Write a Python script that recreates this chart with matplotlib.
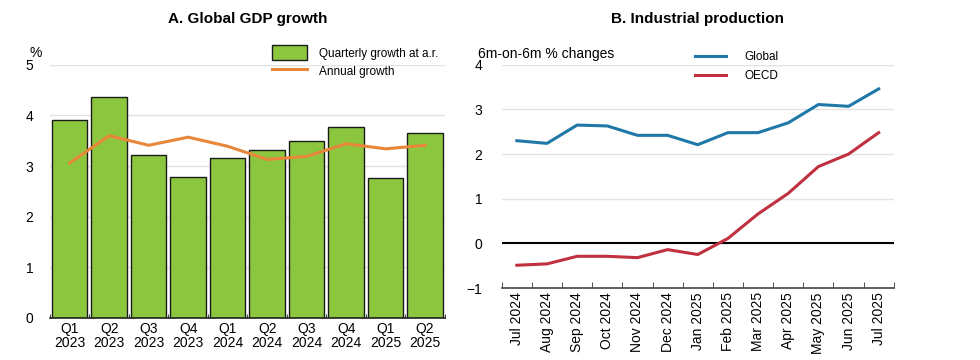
import matplotlib.pyplot as plt
import numpy as np

plt.rcParams['font.family'] = ['Liberation Sans', 'DejaVu Sans']

# Panel A data
quarters = ["Q1\n2023", "Q2\n2023", "Q3\n2023", "Q4\n2023", "Q1\n2024",
            "Q2\n2024", "Q3\n2024", "Q4\n2024", "Q1\n2025", "Q2\n2025"]
quarterly_growth = [3.91, 4.36, 3.21, 2.78, 3.16, 3.32, 3.50, 3.77, 2.77, 3.65]
annual_growth = [3.06, 3.60, 3.41, 3.57, 3.39, 3.13, 3.19, 3.44, 3.34, 3.41]

# Panel B data
months = ["Jul 2024", "Aug 2024", "Sep 2024", "Oct 2024", "Nov 2024", "Dec 2024",
          "Jan 2025", "Feb 2025", "Mar 2025", "Apr 2025", "May 2025", "Jun 2025", "Jul 2025"]
global_ip = [2.30, 2.24, 2.65, 2.63, 2.42, 2.42, 2.21, 2.48, 2.48, 2.70, 3.11, 3.07, 3.46]
oecd_ip = [-0.49, -0.46, -0.29, -0.29, -0.32, -0.14, -0.25, 0.11, 0.66, 1.12, 1.72, 2.00, 2.48]

fig = plt.figure(figsize=(9.8, 3.6), dpi=100)
ax1 = fig.add_axes([0.051, 0.117, 0.403, 0.703])
ax2 = fig.add_axes([0.512, 0.200, 0.400, 0.620])

tick_fs = 10

# ---- Panel A
x = np.arange(len(quarters))
bars = ax1.bar(x, quarterly_growth, width=0.9, color='#8cc63f', edgecolor='#1a1a1a',
               linewidth=1.0, label='Quarterly growth at a.r.', zorder=2)
line, = ax1.plot(x, annual_growth, color='#e8873a', linewidth=2.2, label='Annual growth', zorder=3)
ax1.set_xlim(-0.5, len(quarters) - 0.5)
ax1.set_ylim(0, 5)
ax1.set_yticks(range(0, 6))
ax1.set_xticks(x)
ax1.set_xticklabels(quarters, fontsize=tick_fs, linespacing=1.0)
ax1.set_xticks(np.arange(-0.5, len(quarters), 1), minor=True)
ax1.tick_params(axis='x', which='major', length=0, pad=3)
ax1.tick_params(axis='x', which='minor', length=3, direction='in', color='#222222')
ax1.tick_params(axis='y', length=0, labelsize=tick_fs, pad=12)
ax1.grid(axis='y', color='#e3e3e3', linewidth=1, zorder=0)
ax1.set_axisbelow(True)
for s in ['top', 'right', 'left']:
    ax1.spines[s].set_visible(False)
ax1.spines['bottom'].set_color('#222222')
ax1.spines['bottom'].set_linewidth(1.2)
ax1.text(-0.035, 1.03, '%', transform=ax1.transAxes, fontsize=tick_fs, ha='center')
ax1.set_title('A. Global GDP growth', fontsize=11, fontweight='bold', pad=30)
ax1.legend([bars, line], ['Quarterly growth at a.r.', 'Annual growth'],
           loc='upper right', bbox_to_anchor=(1.01, 1.12), frameon=False, fontsize=8.5,
           handlelength=3.0, handleheight=1.6, labelspacing=0.3, handletextpad=1.0)

# ---- Panel B
xm = np.arange(len(months))
ax2.plot(xm, global_ip, color='#1f78a8', linewidth=2.2, label='Global', zorder=3)
ax2.plot(xm, oecd_ip, color='#c0303f', linewidth=2.2, label='OECD', zorder=3)
ax2.axhline(0, color='black', linewidth=1.5, zorder=2)
ax2.set_xlim(-0.5, len(months) - 0.5)
ax2.set_ylim(-1, 4)
ax2.set_yticks(range(-1, 5))
ax2.set_xticks(xm)
ax2.set_xticklabels(months, rotation=90, fontsize=tick_fs)
ax2.set_xticks(np.arange(-0.5, len(months), 1), minor=True)
ax2.tick_params(axis='x', which='major', length=0, pad=3)
ax2.tick_params(axis='x', which='minor', length=4, direction='in', color='#333333')
ax2.tick_params(axis='y', length=0, labelsize=tick_fs, pad=14)
ax2.grid(axis='y', color='#e3e3e3', linewidth=1, zorder=0)
ax2.set_axisbelow(True)
for s in ['top', 'right', 'left']:
    ax2.spines[s].set_visible(False)
ax2.spines['bottom'].set_color('#444444')
ax2.spines['bottom'].set_linewidth(1.2)
ax2.text(-0.06, 1.03, '6m-on-6m % changes', transform=ax2.transAxes, fontsize=tick_fs, ha='left')
ax2.set_title('B. Industrial production', fontsize=11, fontweight='bold', pad=30)
ax2.legend(loc='upper center', bbox_to_anchor=(0.6, 1.11), frameon=False, fontsize=8.5,
           handlelength=2.6, labelspacing=0.6, handletextpad=1.6)

fig.savefig('out.png', dpi=100)
